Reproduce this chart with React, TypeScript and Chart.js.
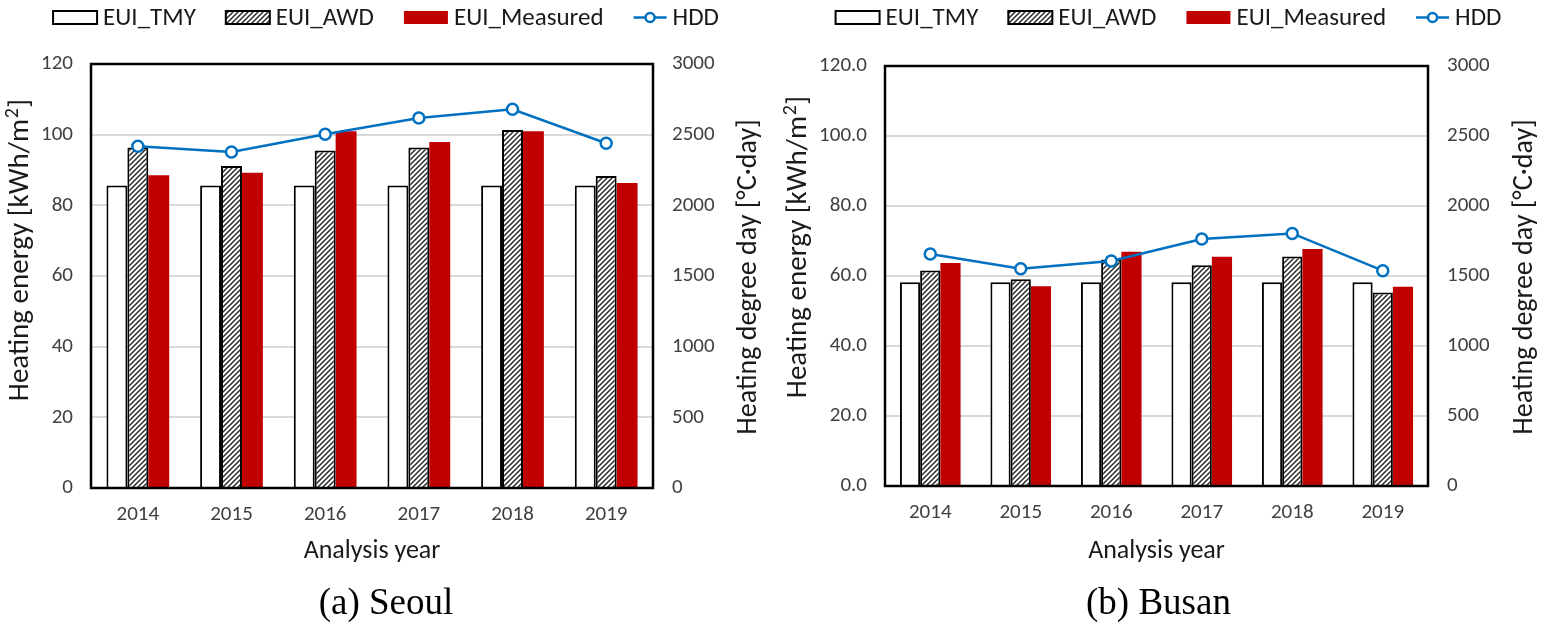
import React, { useEffect, useRef } from 'react';
import { Chart, registerables } from 'chart.js';

Chart.register(...registerables);

// ---------- data ----------
const years = ['2014', '2015', '2016', '2017', '2018', '2019'];

const seoulTMY = [85.6, 85.6, 85.6, 85.6, 85.6, 85.6];
const seoulAWD = [96.4, 91.1, 95.5, 96.4, 101.3, 88.3];
const seoulMeasured = [88.5, 89.2, 101.0, 97.9, 101.0, 86.3];
const seoulHDD = [2418, 2377, 2503, 2618, 2680, 2439];

const busanTMY = [58.2, 58.2, 58.2, 58.2, 58.2, 58.2];
const busanAWD = [61.6, 59.1, 64.7, 63.1, 65.6, 55.3];
const busanMeasured = [63.7, 57.1, 66.9, 65.5, 67.7, 56.9];
const busanHDD = [1657, 1552, 1607, 1764, 1804, 1538];

const seriesNames = ['EUI_TMY', 'EUI_AWD', 'EUI_Measured', 'HDD'];
const leftTicks = { min: 0, max: 120, step: 20 };
const rightTicks = { min: 0, max: 3000, step: 500 };
const leftTitleMain = 'Heating energy [kWh/m';
const leftTitleSup = '2';
const leftTitleEnd = ']';
const rightTitle = 'Heating degree day [°C·day]';
const xTitle = 'Analysis year';
const captions = ['(a) Seoul', '(b) Busan'];

// ---------- style ----------
const FONT = "Carlito, Calibri, 'Liberation Sans Narrow', Lato, sans-serif";
const BLUE = '#0070C0';
const RED = '#C00000';
const TICK_COLOR = '#404040';
const TEXT_COLOR = '#1a1a1a';

function makeHatch(ctx: CanvasRenderingContext2D): CanvasPattern | string {
  const c = document.createElement('canvas');
  const s = 5;
  c.width = s;
  c.height = s;
  const g = c.getContext('2d')!;
  g.fillStyle = '#ffffff';
  g.fillRect(0, 0, s, s);
  g.strokeStyle = '#2a2a2a';
  g.lineWidth = 1.5;
  g.beginPath();
  g.moveTo(-1, s + 1);
  g.lineTo(s + 1, -1);
  g.moveTo(-1, 1);
  g.lineTo(1, -1);
  g.moveTo(s - 1, s + 1);
  g.lineTo(s + 1, s - 1);
  g.stroke();
  return ctx.createPattern(c, 'repeat') || '#888';
}

interface PanelProps {
  left: number;
  width: number;
  height: number;
  area: { left: number; right: number; top: number; bottom: number };
  tmy: number[];
  awd: number[];
  measured: number[];
  hdd: number[];
  decimals: number;
  leftTitleX: number;
  leftTitleY: number;
  rightTitleX: number;
  rightTitleY: number;
  legendShift: number;
  caption: string;
}

function Panel(p: PanelProps) {
  const ref = useRef<HTMLCanvasElement | null>(null);

  useEffect(() => {
    const canvas = ref.current!;
    const ctx0 = canvas.getContext('2d')!;
    const hatch = makeHatch(ctx0);

    const decor = {
      id: 'decor',
      afterDatasetsDraw(chart: any) {
        const { ctx, chartArea: a } = chart;
        ctx.save();
        ctx.strokeStyle = '#000';
        ctx.lineWidth = 2.5;
        ctx.strokeRect(a.left, a.top, a.right - a.left, a.bottom - a.top);
        ctx.restore();
      },
      afterDraw(chart: any) {
        const { ctx, chartArea: a } = chart;
        ctx.save();
        ctx.fillStyle = TEXT_COLOR;
        ctx.textBaseline = 'middle';

        // left axis title with superscript
        const mainFont = `29px ${FONT}`;
        const supFont = `20px ${FONT}`;
        ctx.font = mainFont;
        const w1 = ctx.measureText(leftTitleMain).width;
        const w3 = ctx.measureText(leftTitleEnd).width;
        ctx.font = supFont;
        const w2 = ctx.measureText(leftTitleSup).width + 1;
        const totalL = w1 + w2 + w3;
        ctx.save();
        ctx.translate(p.leftTitleX, p.leftTitleY);
        ctx.rotate(-Math.PI / 2);
        ctx.textAlign = 'left';
        let tx = -totalL / 2;
        ctx.font = mainFont;
        ctx.fillText(leftTitleMain, tx, 0);
        tx += w1;
        ctx.font = supFont;
        ctx.fillText(leftTitleSup, tx + 0.5, -8);
        tx += w2;
        ctx.font = mainFont;
        ctx.fillText(leftTitleEnd, tx, 0);
        ctx.restore();

        // right axis title
        ctx.font = `28px ${FONT}`;
        ctx.textAlign = 'center';
        ctx.save();
        ctx.translate(p.rightTitleX, p.rightTitleY);
        ctx.rotate(-Math.PI / 2);
        ctx.fillText(rightTitle, 0, 0);
        ctx.restore();

        // x axis title
        ctx.font = `26px ${FONT}`;
        ctx.fillText(xTitle, (a.left + a.right) / 2, 551);

        // legend
        ctx.font = `25px ${FONT}`;
        ctx.textAlign = 'left';
        const boxW = 44;
        const iconW = 33;
        const gap = 6;
        const sep = 30;
        const iconWidths = [boxW, boxW, boxW, iconW];
        const textW = seriesNames.map((n) => ctx.measureText(n).width);
        let total = 0;
        seriesNames.forEach((_, i) => {
          total += iconWidths[i] + gap + textW[i];
        });
        total += sep * (seriesNames.length - 1);
        let x = p.width / 2 - total / 2 + p.legendShift;
        const y = 17.5;
        seriesNames.forEach((name, i) => {
          const w = iconWidths[i];
          if (i === 0) {
            ctx.fillStyle = '#fff';
            ctx.fillRect(x, y - 6.5, w, 13);
            ctx.strokeStyle = '#000';
            ctx.lineWidth = 2;
            ctx.strokeRect(x, y - 6.5, w, 13);
          } else if (i === 1) {
            ctx.fillStyle = hatch as any;
            ctx.fillRect(x, y - 6.5, w, 13);
            ctx.strokeStyle = '#000';
            ctx.lineWidth = 2;
            ctx.strokeRect(x, y - 6.5, w, 13);
          } else if (i === 2) {
            ctx.fillStyle = RED;
            ctx.fillRect(x, y - 6.5, w, 13);
          } else {
            ctx.strokeStyle = BLUE;
            ctx.lineWidth = 2.5;
            ctx.beginPath();
            ctx.moveTo(x, y);
            ctx.lineTo(x + w, y);
            ctx.stroke();
            ctx.beginPath();
            ctx.arc(x + w / 2, y, 4.5, 0, Math.PI * 2);
            ctx.fillStyle = '#fff';
            ctx.fill();
            ctx.stroke();
          }
          ctx.fillStyle = TEXT_COLOR;
          ctx.fillText(name, x + w + gap, y + 1);
          x += w + gap + textW[i] + sep;
        });
        ctx.restore();
      },
    };

    const tickFont = { family: FONT, size: 21 };
    const xH = p.height - p.area.bottom;
    const wl = p.area.left;
    const wr = p.width - p.area.right;

    const chart = new Chart(canvas, {
      type: 'bar',
      data: {
        labels: years,
        datasets: [
          {
            label: seriesNames[0],
            data: p.tmy,
            backgroundColor: '#ffffff',
            borderColor: '#000000',
            borderWidth: 2,
            yAxisID: 'y',
            order: 2,
          } as any,
          {
            label: seriesNames[1],
            data: p.awd,
            backgroundColor: hatch,
            borderColor: '#000000',
            borderWidth: 2,
            yAxisID: 'y',
            order: 2,
          },
          {
            label: seriesNames[2],
            data: p.measured,
            backgroundColor: RED,
            borderWidth: 0,
            yAxisID: 'y',
            order: 2,
          },
          {
            type: 'line',
            label: seriesNames[3],
            data: p.hdd,
            yAxisID: 'y2',
            borderColor: BLUE,
            borderWidth: 2.5,
            pointRadius: 5.5,
            pointBackgroundColor: '#ffffff',
            pointBorderColor: BLUE,
            pointBorderWidth: 2.5,
            tension: 0,
            order: 0,
          },
        ],
      },
      options: {
        animation: false,
        responsive: false,
        maintainAspectRatio: false,
        devicePixelRatio: 1,
        layout: { padding: { top: p.area.top, left: 0, right: 0, bottom: 0 } },
        datasets: { bar: { categoryPercentage: 0.67, barPercentage: 1.0 } },
        plugins: {
          legend: { display: false },
          tooltip: { enabled: false },
          title: { display: false },
        },
        scales: {
          x: {
            offset: true,
            grid: { display: false, drawTicks: false },
            border: { display: false },
            ticks: { font: tickFont, color: TICK_COLOR, padding: 14, maxRotation: 0, autoSkip: false },
            afterFit: (s: any) => {
              s.height = xH;
            },
          },
          y: {
            position: 'left',
            min: leftTicks.min,
            max: leftTicks.max,
            grid: { color: '#D9D9D9', lineWidth: 2, drawTicks: false },
            border: { display: false },
            ticks: {
              stepSize: leftTicks.step,
              font: tickFont,
              color: TICK_COLOR,
              padding: 18,
              callback: (v: any) => Number(v).toFixed(p.decimals),
            },
            afterFit: (s: any) => {
              s.width = wl;
            },
          },
          y2: {
            position: 'right',
            min: rightTicks.min,
            max: rightTicks.max,
            grid: { display: false, drawTicks: false },
            border: { display: false },
            ticks: {
              stepSize: rightTicks.step,
              font: tickFont,
              color: TICK_COLOR,
              padding: 19,
              callback: (v: any) => String(v),
            },
            afterFit: (s: any) => {
              s.width = wr;
            },
          },
        },
      },
      plugins: [decor],
    } as any);

    return () => chart.destroy();
  }, []);

  return (
    <div style={{ position: 'absolute', left: p.left, top: 0, width: p.width, height: p.height }}>
      <canvas ref={ref} width={p.width} height={p.height} style={{ width: p.width, height: p.height, display: 'block' }} />
      <div
        style={{
          position: 'absolute',
          left: 0,
          top: 582,
          width: p.width,
          textAlign: 'center',
          fontFamily: "'Liberation Serif', 'Times New Roman', serif",
          fontSize: 37,
          lineHeight: '40px',
          color: '#000',
        }}
      >
        {p.caption}
      </div>
    </div>
  );
}

export default function App() {
  return (
    <div style={{ position: 'absolute', left: 0, top: 0, width: 1545, height: 625, background: '#fff', overflow: 'hidden' }}>
      <Panel
        left={0}
        width={772}
        height={625}
        area={{ left: 91, right: 653, top: 64, bottom: 488 }}
        tmy={seoulTMY}
        awd={seoulAWD}
        measured={seoulMeasured}
        hdd={seoulHDD}
        decimals={0}
        leftTitleX={21}
        leftTitleY={250}
        rightTitleX={749}
        rightTitleY={277}
        legendShift={0}
        caption={captions[0]}
      />
      <Panel
        left={772}
        width={773}
        height={625}
        area={{ left: 113, right: 656, top: 66, bottom: 486 }}
        tmy={busanTMY}
        awd={busanAWD}
        measured={busanMeasured}
        hdd={busanHDD}
        decimals={1}
        leftTitleX={27}
        leftTitleY={247}
        rightTitleX={753}
        rightTitleY={277}
        legendShift={10}
        caption={captions[1]}
      />
    </div>
  );
}
